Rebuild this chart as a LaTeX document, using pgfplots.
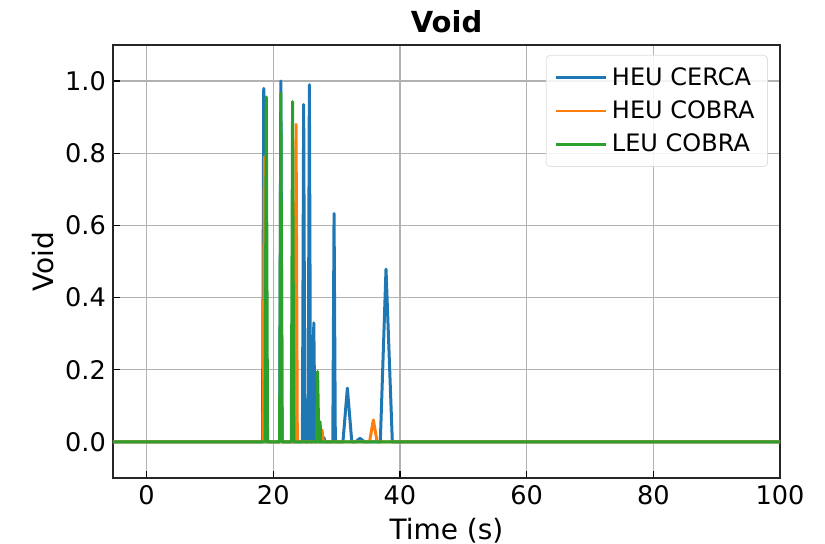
\documentclass[border=0pt]{standalone}
\usepackage{fontspec}
\setmainfont{DejaVu Sans}
\usepackage{pgfplots}
\pgfplotsset{compat=1.18}
\definecolor{tabblue}{HTML}{1F77B4}
\definecolor{taborange}{HTML}{FF7F0E}
\definecolor{tabgreen}{HTML}{2CA02C}
\begin{document}
\begin{tikzpicture}
\begin{axis}[
    name=ax,
    scale only axis,
    width=333.5pt, height=216.5pt,
    xmin=-5.3, xmax=100,
    ymin=-0.1, ymax=1.1,
    xtick={0,20,40,60,80,100},
    ytick={0,0.2,0.4,0.6,0.8,1.0},
    yticklabel style={/pgf/number format/.cd, fixed, fixed zerofill, precision=1},
    /pgf/number format/assume math mode=true,
    tick label style={font=\fontsize{12.8}{14}\selectfont},
    label style={font=\fontsize{14}{16}\selectfont},
    xlabel={Time (s)},
    ylabel={Void},
    title={\textbf{Void}},
    title style={font=\fontsize{14.5}{16}\selectfont, yshift=-3.5pt},
    tick align=inside,
    xtick pos=bottom, ytick pos=left,
    major tick length=3.5pt,
    tick style={black, line width=0.7pt},
    axis line style={black!85, line width=0.7pt},
    grid=major,
    grid style={gray!60, line width=0.65pt},
    xlabel style={yshift=0pt},
    ylabel style={yshift=-1pt},
    legend style={font=\fontsize{12}{14}\selectfont, draw=gray!25, rounded corners=2pt,
        fill=white, fill opacity=0.85, text opacity=1, row sep=1.2pt,
        at={(0.982,0.977)}, anchor=north east, inner xsep=4pt, inner ysep=3.5pt,
        nodes={inner sep=2.5pt}},
    legend cell align=left,
    legend image code/.code={\draw[#1] (0pt,0pt) -- (25pt,0pt);},
    legend image post style={line width=1.4pt, xshift=-4pt},
    every axis plot/.append style={line width=1.5pt, line join=round},
]
\addplot[tabblue] coordinates {
    (-6,0) (18.3,0) (18.5,0.98) (18.7,0)
    (21.0,0) (21.2,1.0) (21.4,0)
    (24.6,0) (24.8,0.935) (25.0,0)
    (25.5,0) (25.7,0.99) (25.9,0)
    (26.2,0) (26.4,0.33) (26.6,0)
    (27.8,0) (28.0,0.012) (28.2,0)
    (29.4,0) (29.6,0.633) (29.8,0)
    (31.0,0) (31.7,0.149) (32.4,0)
    (33.0,0) (33.7,0.01) (34.4,0)
    (36.9,0) (37.8,0.479) (38.8,0)
    (100,0)
};
\addlegendentry{HEU CERCA}
\addplot[taborange] coordinates {
    (-6,0) (18.4,0) (18.6,0.79) (18.8,0)
    (23.4,0) (23.6,0.88) (23.8,0)
    (27.5,0) (27.7,0.033) (27.9,0)
    (35.2,0) (35.8,0.061) (36.4,0)
    (100,0)
};
\addlegendentry{HEU COBRA}
\addplot[tabgreen] coordinates {
    (-6,0) (18.7,0) (18.9,0.956) (19.1,0)
    (21.0,0) (21.2,0.966) (21.4,0)
    (22.85,0) (23.05,0.943) (23.25,0)
    (26.8,0) (27.0,0.195) (27.2,0)
    (27.3,0) (27.4,0.056) (27.5,0)
    (100,0)
};
\addlegendentry{LEU COBRA}
\end{axis}
\pgfresetboundingbox
\path ([xshift=-56.5pt,yshift=-33pt]ax.south west) rectangle ([xshift=22.5pt,yshift=22.5pt]ax.north east);
\end{tikzpicture}
\end{document}
